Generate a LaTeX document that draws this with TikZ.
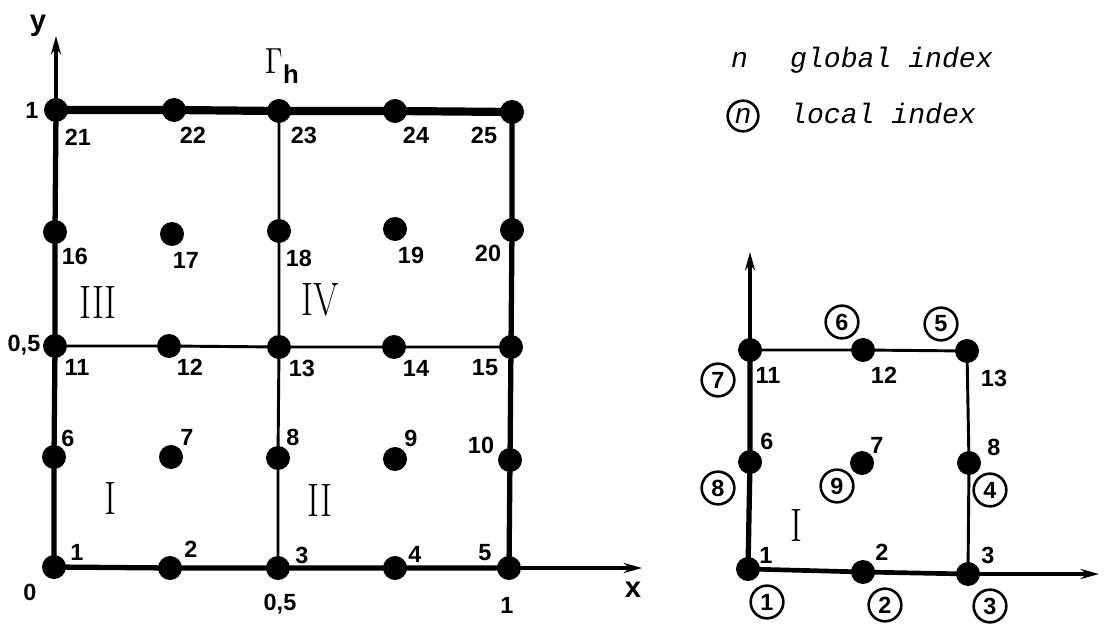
\documentclass[tikz,border=0pt]{standalone}
\usepackage{fontspec}
\usetikzlibrary{arrows.meta}
\newfontfamily\numf{Liberation Sans}
\newfontfamily\legf{Liberation Mono}
\tikzset{
  dot/.style={circle,fill=black,inner sep=0pt,minimum size=0.72cm},
  lbl/.style={inner sep=0pt,font=\numf\bfseries\fontsize{20}{24}\selectfont},
  roman/.style={inner sep=0pt,font=\fontsize{40}{48}\selectfont},
  cn/.style={circle,draw,line width=2.2pt,minimum size=0.98cm,inner sep=0pt,font=\numf\bfseries\fontsize{20}{24}\selectfont},
  leg/.style={inner sep=0pt,anchor=base west,font=\legf\itshape\fontsize{24}{28}\selectfont},
  bnd/.style={line width=4.5pt},
  topline/.style={line width=7pt},
  innerline/.style={line width=2.5pt},
  axis/.style={line width=2.6pt,-{Stealth[length=0.55cm,width=0.3cm]}}
}
\newcommand{\rom}[1]{\scalebox{0.78}[1]{#1}}
\begin{document}
\begin{tikzpicture}[x=0.03cm,y=-0.03cm]
\useasboundingbox (0,0) rectangle (1111,625);
% ---- left grid nodes
\foreach \n/\x/\y in {1/54/567,2/170/568,3/278/568,4/395/568,5/509/568,
  6/54/457,7/171/457,8/278/458,9/395/459,10/510/460,
  11/55/346,12/169/346,13/279/347,14/394/347,15/511/347,
  16/55/232,17/172/234,18/279/231,19/395/229,20/512/230,
  21/56/110,22/174/110,23/279/111,24/395/111,25/512/112}
  \node[dot] (g\n) at (\x,\y) {};
% ---- left grid lines
\draw[topline] (g21.center) -- (g22.center) -- (g23.center) -- (g24.center) -- (g25.center);
\draw[bnd] (g25.center) -- (g20.center) -- (g15.center) -- (g10.center) -- (g5.center);
\draw[bnd] (g1.center) -- (g2.center) -- (g3.center) -- (g4.center) -- (g5.center);
\draw[bnd] (g1.center) -- (g6.center) -- (g11.center) -- (g16.center) -- (g21.center);
\draw[innerline] (g3.center) -- (g8.center) -- (g13.center) -- (g18.center) -- (g23.center);
\draw[innerline] (g11.center) -- (g12.center) -- (g13.center) -- (g14.center) -- (g15.center);
% axes
\coordinate (ytip) at (56,36);
\coordinate (xtip) at (642,568);
\draw[axis] (g21.center) -- (ytip);
\draw[axis] (g5.center) -- (xtip);
\node[lbl,font=\numf\bfseries\fontsize{25}{30}\selectfont] (ylab) at (38,26) {y};
\node[lbl,font=\numf\bfseries\fontsize{25}{30}\selectfont] (xlab) at (633,590) {x};
% tick labels
\node[lbl] (t1y) at (32,110) {1};
\node[lbl] (t05y) at (24,345) {0,5};
\node[lbl] (t0) at (30,592) {0};
\node[lbl] (t05x) at (280,604) {0,5};
\node[lbl] (t1x) at (507,605) {1};
% node labels
\foreach \n/\x/\y in {21/78/137,22/193/135,23/304/135,24/416/135,25/484/135,
  16/75/256,17/186/260,18/299/258,19/411/255,20/488/253,
  11/77/367,12/190/367,13/302/368,14/416/368,15/485/368,
  6/68/438,7/187/437,8/293/437,9/411/438,10/481/445,
  1/77/552,2/191/549,3/302/555,4/415/554,5/485/553}
  \node[lbl] (lg\n) at (\x,\y) {\n};
% region names
\node[roman] (rI) at (110,498) {\rom{I}};
\node[roman] (rII) at (320,500) {\rom{II}};
\node[roman] (rIII) at (98,302) {\rom{III}};
\node[roman] (rIV) at (320,300) {\rom{IV}};
\node[inner sep=0pt] (gam) at (274,61) {\scalebox{2.4}[3.1]{$\Gamma$}};
\node[lbl,font=\numf\bfseries\fontsize{22}{26}\selectfont] (gamh) at (291,74) {h};
% ---- legend
\node[leg] (lgn) at (731,68) {n};
\node[leg] (lgt1) at (790,68) {global index};
\node[circle,draw,line width=2.2pt,minimum size=0.92cm,inner sep=0pt] (lgc) at (743,116) {};
\node[leg,anchor=base] (lgcn) at (743,124) {n};
\node[leg] (lgt2) at (790,124) {local index};
% ---- right element
\foreach \n/\x/\y in {1/748/569,2/863/572,3/968/574,6/750/462,7/862/463,8/969/463,
  11/750/350,12/863/350,13/967/351}
  \node[dot] (e\n) at (\x,\y) {};
\draw[bnd] (e1.center) -- (e6.center) -- (e11.center);
\draw[line width=4pt] (e1.center) -- (e2.center) -- (e3.center);
\draw[innerline] (e11.center) -- (e12.center) -- (e13.center) -- (e8.center) -- (e3.center);
\coordinate (eyt) at (750,252);
\coordinate (ext) at (1099,574);
\draw[axis] (e11.center) -- (eyt);
\draw[axis] (e3.center) -- (ext);
\foreach \n/\x/\y in {1/766/555,2/882/552,3/988/555,11/768/375,12/884/375,13/994/378,
  6/767/441,7/877/445,8/994/447}
  \node[lbl] (le\n) at (\x,\y) {\n};
\foreach \n/\x/\y in {1/767/602,2/885/605,3/990/606,4/990/490,5/941/324,6/842/322,
  7/718/380,8/718/488,9/837/486}
  \node[cn] (c\n) at (\x,\y) {\n};
\node[roman] (eI) at (796,525) {\rom{I}};
\end{tikzpicture}
\end{document}
